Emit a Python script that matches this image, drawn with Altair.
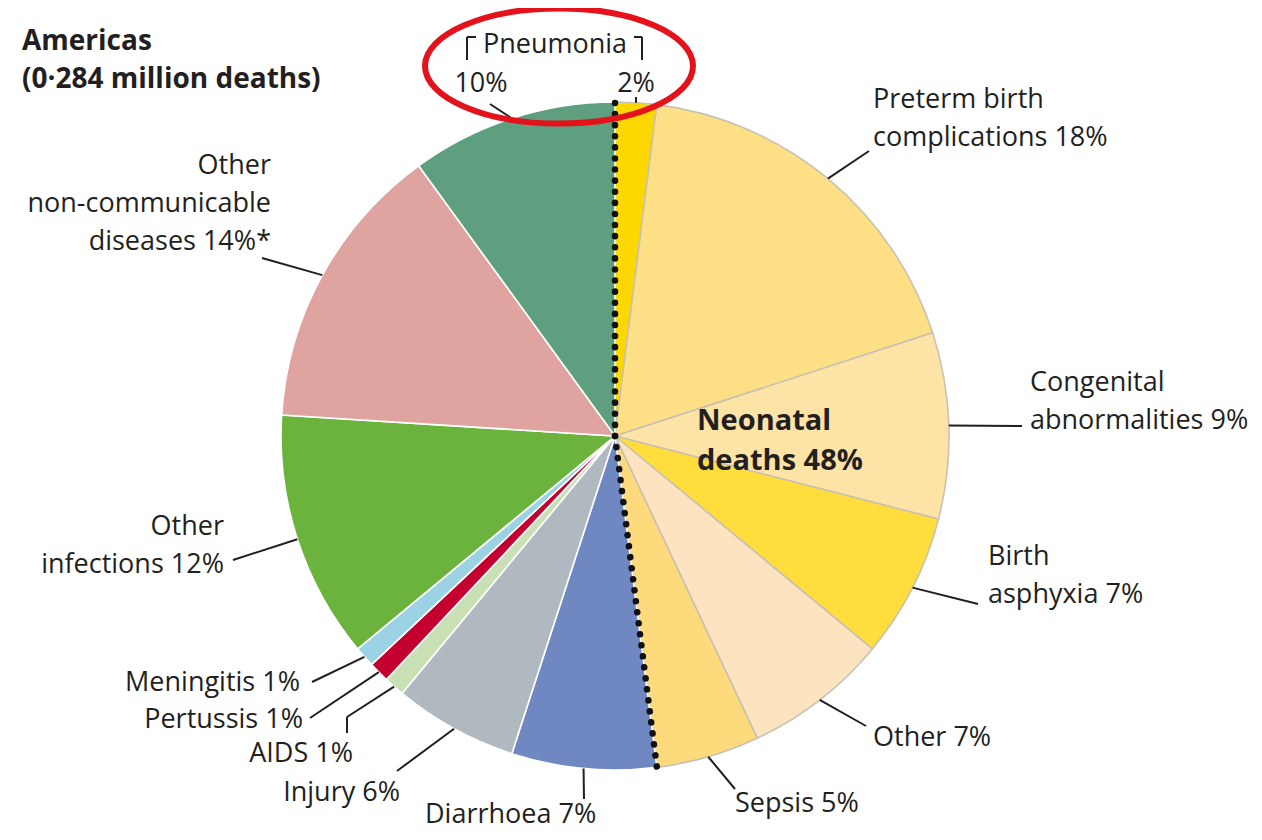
import math
import altair as alt
import pandas as pd

# ---------------- data ----------------
region = "Americas"
total_deaths_million = 0.284
causes = ["Pneumonia (neonatal)", "Preterm birth complications", "Congenital abnormalities",
          "Birth asphyxia", "Other (neonatal)", "Sepsis", "Diarrhoea", "Injury", "AIDS",
          "Pertussis", "Meningitis", "Other infections", "Other non-communicable diseases",
          "Pneumonia"]
shares = [2, 18, 9, 7, 7, 5, 7, 6, 1, 1, 1, 12, 14, 10]
is_neonatal = [True, True, True, True, True, True,
               False, False, False, False, False, False, False, False]
label_lines = [[""], ["Preterm birth", "complications"], ["Congenital", "abnormalities"],
               ["Birth", "asphyxia"], ["Other"], ["Sepsis"], ["Diarrhoea"], ["Injury"],
               ["AIDS"], ["Pertussis"], ["Meningitis"], ["Other", "infections"],
               ["Other", "non-communicable", "diseases"], [""]]
label_suffix = ["", "", "", "", "", "", "", "", "", "", "", "", "*", ""]

# ---------------- styles / layout ----------------
colors = ["#fdd800", "#fddf85", "#fde3a6", "#fedd3c", "#fde3c0", "#fddb7c", "#7088c2",
          "#b0b8c0", "#c8e0b4", "#c3002f", "#9bd3e5", "#6cb33e", "#dfa3a0", "#5e9f7f"]
W, H = 1246, 824
CX, CY, R = 615, 436, 334
TXT = "#231f20"
FONT = "Open Sans"
FS = 27
GAP = 38
label_anchor = [(636, 84, "center"), (873, 100, "left"), (1030, 383, "left"),
                (988, 557, "left"), (873, 738, "left"), (735, 804, "left"),
                (425, 815, "left"), (400, 793, "right"), (353, 754, "right"),
                (303, 720, "right"), (300, 683, "right"), (224, 527, "right"),
                (271, 166, "right"), (481, 84, "center")]
leader_end = [(636, 97), (869, 151), (1022, 426), (978, 604), (866, 726), (735, 789),
              (584, 799), (397, 771), (347, 733), (310, 718), (312, 682), (233, 560),
              (262, 258), (490, 104)]
leader_bend = {8: [(347, 717)]}

# ---------------- derived tables ----------------
pie_df = pd.DataFrame({
    "cause": causes, "share": shares, "order": list(range(len(causes))),
    "group": ["neonatal" if n else "other" for n in is_neonatal],
})
total = sum(shares)

def edge(frac, r=R):
    a = 2 * math.pi * frac
    return CX + r * math.sin(a), CY - r * math.cos(a)

cum = 0
seg_rows = []
text_rows = []
for i, s in enumerate(shares):
    mid = (cum + s / 2) / total
    cum += s
    pts = [edge(mid)] + leader_bend.get(i, []) + [leader_end[i]]
    for (x1, y1), (x2, y2) in zip(pts[:-1], pts[1:]):
        seg_rows.append({"x": x1, "y": y1, "x2": x2, "y2": y2})
    lines = list(label_lines[i])
    last = lines[-1]
    lines[-1] = (last + " " if last else "") + f"{s}%" + label_suffix[i]
    ax, ay, al = label_anchor[i]
    for k, t in enumerate(lines):
        text_rows.append({"text": t, "x": ax, "y": ay + k * GAP, "align": al})

# pneumonia bracket
text_rows.append({"text": "Pneumonia", "x": 555, "y": 45, "align": "center"})
seg_rows += [{"x": 467, "y": 60, "x2": 467, "y2": 37}, {"x": 467, "y": 37, "x2": 476, "y2": 37},
             {"x": 634, "y": 37, "x2": 642, "y2": 37}, {"x": 642, "y": 37, "x2": 642, "y2": 60}]

neo_total = sum(s for s, n in zip(shares, is_neonatal) if n)
neo_start = 0
neo_end = neo_total / total
div_rows = []
for f in (neo_start, neo_end):
    ex, ey = edge(f)
    div_rows.append({"x": CX, "y": CY, "x2": ex, "y2": ey})

title_rows = [{"text": region, "x": 22, "y": 42},
              {"text": f"({total_deaths_million:.3f} million deaths)".replace(".", "·"), "x": 22, "y": 80}]
neo_rows = [{"text": "Neonatal", "x": 697, "y": 421},
            {"text": f"deaths {neo_total}%", "x": 697, "y": 461}]

text_df = pd.DataFrame(text_rows)
seg_df = pd.DataFrame(seg_rows)

# ---------------- chart ----------------
xs = alt.Scale(domain=[8, 8 + W], range=[0, W], nice=False, zero=False)
ys = alt.Scale(domain=[8, 8 + H], range=[0, H], nice=False, zero=False)

def XY(ch):
    return ch.encode(x=alt.X("x:Q", scale=xs, axis=None), y=alt.Y("y:Q", scale=ys, axis=None))

pie = alt.Chart(pie_df).mark_arc(outerRadius=R, strokeWidth=1.6).encode(
    theta=alt.Theta("share:Q", stack=True),
    order=alt.Order("order:Q"),
    color=alt.Color("cause:N", scale=alt.Scale(domain=causes, range=colors), legend=None),
    stroke=alt.Stroke("group:N", scale=alt.Scale(domain=["other", "neonatal"],
                                                  range=["#ffffff", "#c9c1b1"]), legend=None),
    x=alt.value(CX - 8), y=alt.value(CY - 8),
)

divider = XY(alt.Chart(pd.DataFrame(div_rows)).mark_rule(
    color="#111111", strokeWidth=6.5, strokeDash=[0.1, 11], strokeCap="round")).encode(
    x2="x2:Q", y2="y2:Q")

leaders = XY(alt.Chart(seg_df).mark_rule(color=TXT, strokeWidth=2)).encode(x2="x2:Q", y2="y2:Q")

layers = [pie, divider, leaders]
for al in ["left", "right", "center"]:
    sub = text_df[text_df["align"] == al]
    layers.append(XY(alt.Chart(sub).mark_text(align=al, baseline="middle", font=FONT,
                                                fontSize=FS, color=TXT)).encode(text="text:N"))

layers.append(XY(alt.Chart(pd.DataFrame(title_rows)).mark_text(
    align="left", baseline="middle", font=FONT, fontSize=28, fontWeight="bold", color=TXT)
).encode(text="text:N"))
layers.append(XY(alt.Chart(pd.DataFrame(neo_rows)).mark_text(
    align="left", baseline="middle", font=FONT, fontSize=29, fontWeight="bold", color=TXT)
).encode(text="text:N"))

ellipse = XY(alt.Chart(pd.DataFrame({"x": [559], "y": [66]})).mark_point(
    shape="M -1 0 A 1 0.43 0 1 0 1 0 A 1 0.43 0 1 0 -1 0",
    size=(2 * 134) ** 2, filled=False, color="#e3121b", strokeWidth=6, opacity=1))
layers.append(ellipse)

chart = alt.layer(*layers).properties(
    width=W, height=H, padding=0, autosize=alt.AutoSizeParams(type="none")
).configure_view(strokeWidth=0)

chart.save("out.html", embed_options={"renderer": "svg", "actions": False})
